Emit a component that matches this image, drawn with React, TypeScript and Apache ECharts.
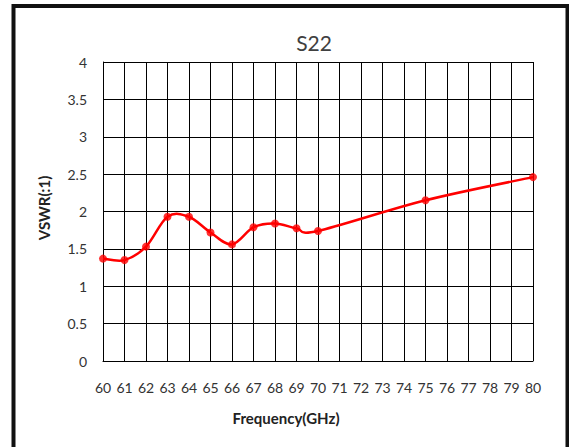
import React, { useEffect, useRef } from "react";
import * as echarts from "echarts";

const freqs = [60, 61, 62, 63, 64, 65, 66, 67, 68, 69, 70, 75, 80];
const vswr = [1.37, 1.35, 1.53, 1.93, 1.93, 1.72, 1.56, 1.79, 1.84, 1.775, 1.74, 2.15, 2.46];
const titleText = "S22";
const xName = "Frequency(GHz)";
const yName = "VSWR(:1)";

function smoothPath(pts: number[][]): string {
  let d = `M${pts[0][0]},${pts[0][1]}`;
  for (let i = 0; i < pts.length - 1; i++) {
    const p0 = pts[i - 1] || pts[i];
    const p1 = pts[i];
    const p2 = pts[i + 1];
    const p3 = pts[i + 2] || pts[i + 1];
    const c1x = p1[0] + (p2[0] - p0[0]) / 6;
    const c1y = p1[1] + (p2[1] - p0[1]) / 6;
    const c2x = p2[0] - (p3[0] - p1[0]) / 6;
    const c2y = p2[1] - (p3[1] - p1[1]) / 6;
    d += ` C${c1x},${c1y} ${c2x},${c2y} ${p2[0]},${p2[1]}`;
  }
  return d;
}

export default function App() {
  const ref = useRef<HTMLDivElement>(null);
  useEffect(() => {
    if (!ref.current) return;
    const chart = echarts.init(ref.current, null, { renderer: "svg" });
    const font = "Lato, 'Open Sans', sans-serif";
    const pairs = freqs.map((f, i) => [f, vswr[i]]);
    chart.setOption({
      animation: false,
      backgroundColor: "#fff",
      title: {
        text: titleText,
        left: 309,
        top: 27,
        textAlign: "center",
        textStyle: { fontFamily: font, fontSize: 21, fontWeight: "normal", color: "#404040" },
      },
      grid: { left: 103, right: 36, top: 62, bottom: 86, containLabel: false },
      xAxis: {
        type: "value",
        min: 60,
        max: 80,
        interval: 1,
        axisLine: { show: true, lineStyle: { color: "#000", width: 1 } },
        axisTick: { show: false },
        splitLine: { show: true, lineStyle: { color: "#000", width: 1 } },
        axisLabel: { margin: 19, fontFamily: font, fontSize: 14, color: "#333" },
      },
      yAxis: {
        type: "value",
        min: 0,
        max: 4,
        interval: 0.5,
        axisLine: { show: true, lineStyle: { color: "#000", width: 1 } },
        axisTick: { show: false },
        splitLine: { show: true, lineStyle: { color: "#000", width: 1 } },
        axisLabel: { margin: 16, fontFamily: font, fontSize: 14, color: "#333" },
      },
      graphic: [
        {
          type: "rect",
          shape: { x: 13.5, y: 6, width: 554, height: 460 },
          style: { fill: "none", stroke: "#111", lineWidth: 4 },
          silent: true,
        },
        {
          type: "text",
          x: 286,
          y: 418,
          style: {
            text: xName,
            fontFamily: font,
            fontSize: 15,
            fontWeight: "bold",
            fill: "#222",
            textAlign: "center",
            textVerticalAlign: "middle",
          },
        },
        {
          type: "text",
          x: 44,
          y: 208,
          rotation: Math.PI / 2,
          style: {
            text: yName,
            fontFamily: font,
            fontSize: 15,
            fontWeight: "bold",
            fill: "#222",
            textAlign: "center",
            textVerticalAlign: "middle",
          },
        },
      ],
      series: [
        {
          type: "custom",
          coordinateSystem: "cartesian2d",
          data: [pairs[0]],
          clip: false,
          z: 4,
          renderItem: (params: any, api: any) => {
            const pts = pairs.map((p) => api.coord(p));
            return {
              type: "path",
              shape: { pathData: smoothPath(pts) },
              style: { fill: "none", stroke: "#ff0000", lineWidth: 2.5 },
            };
          },
        },
        {
          type: "scatter",
          data: pairs,
          symbol: "circle",
          symbolSize: 8,
          itemStyle: { color: "#ff0000" },
          z: 5,
        },
      ],
    });
    return () => chart.dispose();
  }, []);
  return (
    <div
      ref={ref}
      style={{ position: "fixed", left: 0, top: 0, width: 569, height: 447 }}
    />
  );
}
